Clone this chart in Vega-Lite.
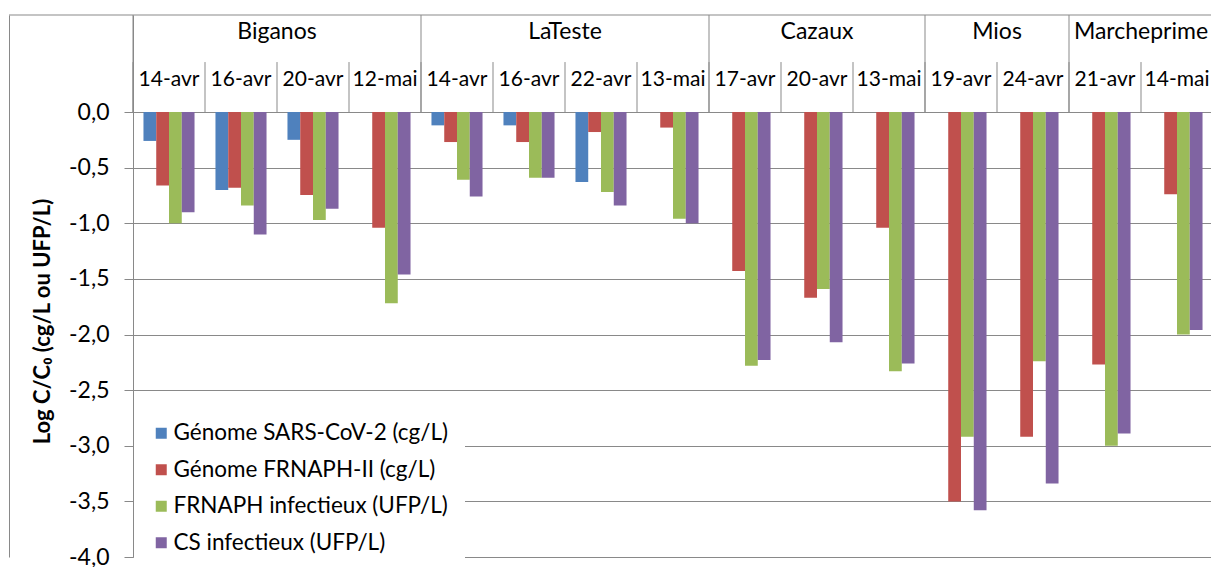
{
  "$schema": "https://vega.github.io/schema/vega-lite/v6.json",
  "autosize": "none",
  "width": 1202,
  "height": 542,
  "padding": {"left": 9, "top": 15, "right": 0, "bottom": 10},
  "background": "white",
  "config": {"view": {"stroke": null}, "font": "Lato"},
  "resolve": {"axis": {"y": "independent"}},
  "datasets": {
    "bars": [
      {"cat": "Biganos 14-avr", "serie": "Génome SARS-CoV-2 (cg/L)", "value": -0.26},
      {"cat": "Biganos 14-avr", "serie": "Génome FRNAPH-II (cg/L)", "value": -0.66},
      {"cat": "Biganos 14-avr", "serie": "FRNAPH infectieux (UFP/L)", "value": -1.0},
      {"cat": "Biganos 14-avr", "serie": "CS infectieux (UFP/L)", "value": -0.9},
      {"cat": "Biganos 16-avr", "serie": "Génome SARS-CoV-2 (cg/L)", "value": -0.7},
      {"cat": "Biganos 16-avr", "serie": "Génome FRNAPH-II (cg/L)", "value": -0.68},
      {"cat": "Biganos 16-avr", "serie": "FRNAPH infectieux (UFP/L)", "value": -0.84},
      {"cat": "Biganos 16-avr", "serie": "CS infectieux (UFP/L)", "value": -1.1},
      {"cat": "Biganos 20-avr", "serie": "Génome SARS-CoV-2 (cg/L)", "value": -0.25},
      {"cat": "Biganos 20-avr", "serie": "Génome FRNAPH-II (cg/L)", "value": -0.745},
      {"cat": "Biganos 20-avr", "serie": "FRNAPH infectieux (UFP/L)", "value": -0.97},
      {"cat": "Biganos 20-avr", "serie": "CS infectieux (UFP/L)", "value": -0.87},
      {"cat": "Biganos 12-mai", "serie": "Génome FRNAPH-II (cg/L)", "value": -1.04},
      {"cat": "Biganos 12-mai", "serie": "FRNAPH infectieux (UFP/L)", "value": -1.72},
      {"cat": "Biganos 12-mai", "serie": "CS infectieux (UFP/L)", "value": -1.46},
      {"cat": "LaTeste 14-avr", "serie": "Génome SARS-CoV-2 (cg/L)", "value": -0.12},
      {"cat": "LaTeste 14-avr", "serie": "Génome FRNAPH-II (cg/L)", "value": -0.27},
      {"cat": "LaTeste 14-avr", "serie": "FRNAPH infectieux (UFP/L)", "value": -0.61},
      {"cat": "LaTeste 14-avr", "serie": "CS infectieux (UFP/L)", "value": -0.76},
      {"cat": "LaTeste 16-avr", "serie": "Génome SARS-CoV-2 (cg/L)", "value": -0.12},
      {"cat": "LaTeste 16-avr", "serie": "Génome FRNAPH-II (cg/L)", "value": -0.27},
      {"cat": "LaTeste 16-avr", "serie": "FRNAPH infectieux (UFP/L)", "value": -0.59},
      {"cat": "LaTeste 16-avr", "serie": "CS infectieux (UFP/L)", "value": -0.59},
      {"cat": "LaTeste 22-avr", "serie": "Génome SARS-CoV-2 (cg/L)", "value": -0.63},
      {"cat": "LaTeste 22-avr", "serie": "Génome FRNAPH-II (cg/L)", "value": -0.18},
      {"cat": "LaTeste 22-avr", "serie": "FRNAPH infectieux (UFP/L)", "value": -0.72},
      {"cat": "LaTeste 22-avr", "serie": "CS infectieux (UFP/L)", "value": -0.84},
      {"cat": "LaTeste 13-mai", "serie": "Génome FRNAPH-II (cg/L)", "value": -0.14},
      {"cat": "LaTeste 13-mai", "serie": "FRNAPH infectieux (UFP/L)", "value": -0.96},
      {"cat": "LaTeste 13-mai", "serie": "CS infectieux (UFP/L)", "value": -1.0},
      {"cat": "Cazaux 17-avr", "serie": "Génome FRNAPH-II (cg/L)", "value": -1.43},
      {"cat": "Cazaux 17-avr", "serie": "FRNAPH infectieux (UFP/L)", "value": -2.28},
      {"cat": "Cazaux 17-avr", "serie": "CS infectieux (UFP/L)", "value": -2.23},
      {"cat": "Cazaux 20-avr", "serie": "Génome FRNAPH-II (cg/L)", "value": -1.67},
      {"cat": "Cazaux 20-avr", "serie": "FRNAPH infectieux (UFP/L)", "value": -1.59},
      {"cat": "Cazaux 20-avr", "serie": "CS infectieux (UFP/L)", "value": -2.07},
      {"cat": "Cazaux 13-mai", "serie": "Génome FRNAPH-II (cg/L)", "value": -1.04},
      {"cat": "Cazaux 13-mai", "serie": "FRNAPH infectieux (UFP/L)", "value": -2.33},
      {"cat": "Cazaux 13-mai", "serie": "CS infectieux (UFP/L)", "value": -2.26},
      {"cat": "Mios 19-avr", "serie": "Génome FRNAPH-II (cg/L)", "value": -3.5},
      {"cat": "Mios 19-avr", "serie": "FRNAPH infectieux (UFP/L)", "value": -2.92},
      {"cat": "Mios 19-avr", "serie": "CS infectieux (UFP/L)", "value": -3.58},
      {"cat": "Mios 24-avr", "serie": "Génome FRNAPH-II (cg/L)", "value": -2.92},
      {"cat": "Mios 24-avr", "serie": "FRNAPH infectieux (UFP/L)", "value": -2.24},
      {"cat": "Mios 24-avr", "serie": "CS infectieux (UFP/L)", "value": -3.34},
      {"cat": "Marcheprime 21-avr", "serie": "Génome FRNAPH-II (cg/L)", "value": -2.27},
      {"cat": "Marcheprime 21-avr", "serie": "FRNAPH infectieux (UFP/L)", "value": -3.0},
      {"cat": "Marcheprime 21-avr", "serie": "CS infectieux (UFP/L)", "value": -2.89},
      {"cat": "Marcheprime 14-mai", "serie": "Génome FRNAPH-II (cg/L)", "value": -0.74},
      {"cat": "Marcheprime 14-mai", "serie": "FRNAPH infectieux (UFP/L)", "value": -2.0},
      {"cat": "Marcheprime 14-mai", "serie": "CS infectieux (UFP/L)", "value": -1.96}
    ],
    "cats": [
      {"cat": "Biganos 14-avr", "site": "Biganos", "date": "14-avr"},
      {"cat": "Biganos 16-avr", "site": "Biganos", "date": "16-avr"},
      {"cat": "Biganos 20-avr", "site": "Biganos", "date": "20-avr"},
      {"cat": "Biganos 12-mai", "site": "Biganos", "date": "12-mai"},
      {"cat": "LaTeste 14-avr", "site": "LaTeste", "date": "14-avr"},
      {"cat": "LaTeste 16-avr", "site": "LaTeste", "date": "16-avr"},
      {"cat": "LaTeste 22-avr", "site": "LaTeste", "date": "22-avr"},
      {"cat": "LaTeste 13-mai", "site": "LaTeste", "date": "13-mai"},
      {"cat": "Cazaux 17-avr", "site": "Cazaux", "date": "17-avr"},
      {"cat": "Cazaux 20-avr", "site": "Cazaux", "date": "20-avr"},
      {"cat": "Cazaux 13-mai", "site": "Cazaux", "date": "13-mai"},
      {"cat": "Mios 19-avr", "site": "Mios", "date": "19-avr"},
      {"cat": "Mios 24-avr", "site": "Mios", "date": "24-avr"},
      {"cat": "Marcheprime 21-avr", "site": "Marcheprime", "date": "21-avr"},
      {"cat": "Marcheprime 14-mai", "site": "Marcheprime", "date": "14-mai"}
    ],
    "sites": [
      {"site": "Biganos", "first": "Biganos 14-avr", "mid": "Biganos 20-avr", "n": 4},
      {"site": "LaTeste", "first": "LaTeste 14-avr", "mid": "LaTeste 22-avr", "n": 4},
      {"site": "Cazaux", "first": "Cazaux 17-avr", "mid": "Cazaux 20-avr", "n": 3},
      {"site": "Mios", "first": "Mios 19-avr", "mid": "Mios 24-avr", "n": 2},
      {"site": "Marcheprime", "first": "Marcheprime 21-avr", "mid": "Marcheprime 14-mai", "n": 2}
    ],
    "frame": [{}]
  },
  "layer": [
    {
      "data": {"name": "bars"},
      "mark": {"type": "bar"},
      "encoding": {
        "x": {"field": "cat", "type": "nominal", "axis": null,
          "scale": {"domain": ["Biganos 14-avr","Biganos 16-avr","Biganos 20-avr","Biganos 12-mai","LaTeste 14-avr","LaTeste 16-avr","LaTeste 22-avr","LaTeste 13-mai","Cazaux 17-avr","Cazaux 20-avr","Cazaux 13-mai","Mios 19-avr","Mios 24-avr","Marcheprime 21-avr","Marcheprime 14-mai"], "paddingInner": 0, "paddingOuter": 0, "range": [124, 1204]}},
        "xOffset": {"field": "serie", "type": "nominal",
          "scale": {"domain": ["Génome SARS-CoV-2 (cg/L)","Génome FRNAPH-II (cg/L)","FRNAPH infectieux (UFP/L)","CS infectieux (UFP/L)"], "paddingInner": 0, "paddingOuter": 0.82}},
        "y": {"field": "value", "type": "quantitative",
          "scale": {"domain": [-4, 0.872], "nice": false, "zero": false},
          "axis": {
            "orient": "left", "offset": -124,
            "values": [0, -0.5, -1, -1.5, -2, -2.5, -3, -3.5, -4],
            "labelExpr": "replace(replace(format(datum.value, '.1f'), '.', ','), '\u2212', '-')",
            "title": "Log C/C₀ (cg/L ou UFP/L)",
            "titleFont": "Lato", "titleFontSize": 22, "titleFontWeight": "bold", "titleColor": "black", "titlePadding": 14, "titleY": 306,
            "labelFont": "Lato", "labelFontSize": 23, "labelColor": "black", "labelPadding": 15,
            "tickSize": 9, "tickColor": "#898989", "domainColor": "#898989",
            "grid": true, "gridColor": "#898989", "gridWidth": 1
          }},
        "y2": {"datum": 0},
        "color": {"field": "serie", "type": "nominal",
          "scale": {"domain": ["Génome SARS-CoV-2 (cg/L)","Génome FRNAPH-II (cg/L)","FRNAPH infectieux (UFP/L)","CS infectieux (UFP/L)"], "range": ["#4F81BD", "#C0504D", "#9BBB59", "#8064A2"]},
          "legend": {"orient": "none", "legendX": 125, "legendY": 391, "title": null, "fillColor": "white", "padding": 16,
            "symbolType": "square", "symbolSize": 121, "symbolStrokeWidth": 0, "labelFont": "Lato", "labelFontSize": 22.5,
            "labelColor": "black", "rowPadding": 13.5, "labelOffset": 1, "labelLimit": 500}}
      }
    },
    {
      "data": {"name": "cats"},
      "mark": {"type": "rule", "color": "#898989", "strokeWidth": 1},
      "encoding": {
        "x": {"field": "cat", "type": "nominal", "bandPosition": 0, "axis": null,
          "scale": {"domain": ["Biganos 14-avr","Biganos 16-avr","Biganos 20-avr","Biganos 12-mai","LaTeste 14-avr","LaTeste 16-avr","LaTeste 22-avr","LaTeste 13-mai","Cazaux 17-avr","Cazaux 20-avr","Cazaux 13-mai","Mios 19-avr","Mios 24-avr","Marcheprime 21-avr","Marcheprime 14-mai"], "paddingInner": 0, "paddingOuter": 0, "range": [124, 1204]}},
        "y": {"datum": 0.449, "type": "quantitative", "axis": null},
        "y2": {"datum": 0}
      }
    },
    {
      "data": {"name": "sites"},
      "mark": {"type": "rule", "color": "#898989", "strokeWidth": 1},
      "encoding": {
        "x": {"field": "first", "type": "nominal", "bandPosition": 0, "axis": null,
          "scale": {"domain": ["Biganos 14-avr","Biganos 16-avr","Biganos 20-avr","Biganos 12-mai","LaTeste 14-avr","LaTeste 16-avr","LaTeste 22-avr","LaTeste 13-mai","Cazaux 17-avr","Cazaux 20-avr","Cazaux 13-mai","Mios 19-avr","Mios 24-avr","Marcheprime 21-avr","Marcheprime 14-mai"], "paddingInner": 0, "paddingOuter": 0, "range": [124, 1204]}},
        "y": {"datum": 0.872, "type": "quantitative", "axis": null},
        "y2": {"datum": 0}
      }
    },
    {
      "data": {"name": "frame"},
      "mark": {"type": "rule", "color": "#898989", "strokeWidth": 1},
      "encoding": {
        "y": {"datum": 0.872, "type": "quantitative",
          "axis": {"orient": "left", "offset": 0, "labels": false, "ticks": false, "grid": false, "title": null, "domain": true, "domainColor": "#898989"}}
      }
    },
    {
      "data": {"name": "cats"},
      "mark": {"type": "text", "font": "Lato", "fontSize": 21, "color": "black", "baseline": "alphabetic", "align": "center"},
      "encoding": {
        "x": {"field": "cat", "type": "nominal", "bandPosition": 0.5, "axis": null,
          "scale": {"domain": ["Biganos 14-avr","Biganos 16-avr","Biganos 20-avr","Biganos 12-mai","LaTeste 14-avr","LaTeste 16-avr","LaTeste 22-avr","LaTeste 13-mai","Cazaux 17-avr","Cazaux 20-avr","Cazaux 13-mai","Mios 19-avr","Mios 24-avr","Marcheprime 21-avr","Marcheprime 14-mai"], "paddingInner": 0, "paddingOuter": 0, "range": [124, 1204]}},
        "y": {"datum": 0.234, "type": "quantitative", "axis": null},
        "text": {"field": "date"}
      }
    },
    {
      "data": {"name": "sites"},
      "transform": [{"filter": "datum.n % 2 == 0"}],
      "mark": {"type": "text", "font": "Lato", "fontSize": 23, "color": "black", "baseline": "alphabetic", "align": "center"},
      "encoding": {
        "x": {"field": "mid", "type": "nominal", "bandPosition": 0, "axis": null,
          "scale": {"domain": ["Biganos 14-avr","Biganos 16-avr","Biganos 20-avr","Biganos 12-mai","LaTeste 14-avr","LaTeste 16-avr","LaTeste 22-avr","LaTeste 13-mai","Cazaux 17-avr","Cazaux 20-avr","Cazaux 13-mai","Mios 19-avr","Mios 24-avr","Marcheprime 21-avr","Marcheprime 14-mai"], "paddingInner": 0, "paddingOuter": 0, "range": [124, 1204]}},
        "y": {"datum": 0.656, "type": "quantitative", "axis": null},
        "text": {"field": "site"}
      }
    },
    {
      "data": {"name": "sites"},
      "transform": [{"filter": "datum.n % 2 == 1"}],
      "mark": {"type": "text", "font": "Lato", "fontSize": 23, "color": "black", "baseline": "alphabetic", "align": "center"},
      "encoding": {
        "x": {"field": "mid", "type": "nominal", "bandPosition": 0.5, "axis": null,
          "scale": {"domain": ["Biganos 14-avr","Biganos 16-avr","Biganos 20-avr","Biganos 12-mai","LaTeste 14-avr","LaTeste 16-avr","LaTeste 22-avr","LaTeste 13-mai","Cazaux 17-avr","Cazaux 20-avr","Cazaux 13-mai","Mios 19-avr","Mios 24-avr","Marcheprime 21-avr","Marcheprime 14-mai"], "paddingInner": 0, "paddingOuter": 0, "range": [124, 1204]}},
        "y": {"datum": 0.656, "type": "quantitative", "axis": null},
        "text": {"field": "site"}
      }
    }
  ]
}
